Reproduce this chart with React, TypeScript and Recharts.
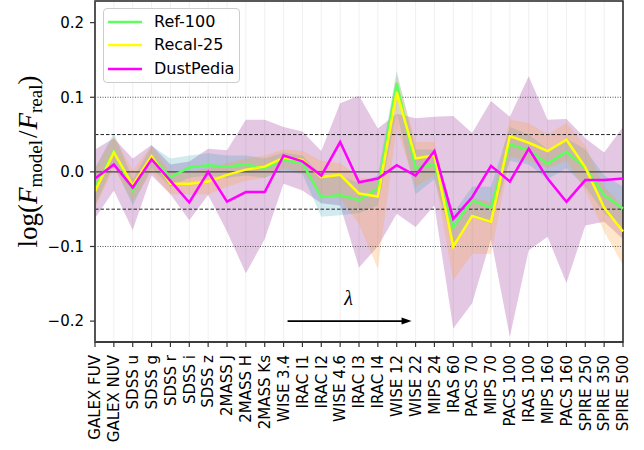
import React from "react";
import {
  ComposedChart, Line, Area, XAxis, YAxis, CartesianGrid, ReferenceLine, ReferenceArea,
} from "recharts";

const categories = [
  "GALEX FUV", "GALEX NUV", "SDSS u", "SDSS g", "SDSS r", "SDSS i", "SDSS z",
  "2MASS J", "2MASS H", "2MASS Ks", "WISE 3.4", "IRAC I1", "IRAC I2", "WISE 4.6",
  "IRAC I3", "IRAC I4", "WISE 12", "WISE 22", "MIPS 24", "IRAS 60", "PACS 70",
  "MIPS 70", "PACS 100", "IRAS 100", "MIPS 160", "PACS 160", "SPIRE 250", "SPIRE 350", "SPIRE 500",
];

const ref100 = [-0.022, 0.028, -0.025, 0.020, -0.007, 0.006, 0.009, 0.007, 0.010, 0.005, 0.016, 0.012, -0.034, -0.031, -0.038, -0.022, 0.119, 0.005, 0.010, -0.074, -0.038, -0.048, 0.037, 0.029, 0.011, 0.027, 0.005, -0.031, -0.049];
const recal25 = [-0.026, 0.026, -0.018, 0.021, -0.016, -0.016, -0.013, -0.004, 0.003, 0.007, 0.019, 0.016, -0.007, -0.004, -0.029, -0.033, 0.107, 0.018, 0.022, -0.100, -0.059, -0.067, 0.048, 0.039, 0.028, 0.043, 0.006, -0.048, -0.080];
const dustPedia = [-0.009, 0.010, -0.021, 0.017, -0.012, -0.041, 0.000, -0.040, -0.027, -0.027, 0.022, 0.014, -0.005, 0.040, -0.014, -0.009, 0.009, -0.005, 0.028, -0.063, -0.034, 0.008, -0.013, 0.031, -0.009, -0.040, -0.011, -0.011, -0.009];

const refLo = [-0.045, 0.010, -0.045, 0.005, -0.020, -0.008, -0.005, -0.008, -0.005, -0.008, 0.002, -0.003, -0.060, -0.058, -0.055, -0.045, 0.080, -0.030, -0.010, -0.100, -0.060, -0.070, 0.015, 0.010, -0.010, 0.005, -0.020, -0.055, -0.075];
const refHi = [0.005, 0.052, -0.010, 0.035, 0.018, 0.022, 0.025, 0.022, 0.022, 0.018, 0.026, 0.022, -0.005, -0.005, -0.015, -0.005, 0.136, 0.030, 0.030, -0.055, -0.020, -0.020, 0.060, 0.050, 0.030, 0.045, 0.030, -0.005, -0.020];
const recalLo = [-0.048, 0.005, -0.040, 0.000, -0.030, -0.030, -0.030, -0.020, -0.012, -0.008, 0.005, 0.000, -0.030, -0.035, -0.070, -0.130, 0.060, -0.020, -0.005, -0.145, -0.110, -0.110, 0.020, 0.015, 0.005, 0.015, -0.025, -0.080, -0.125];
const recalHi = [0.005, 0.048, 0.002, 0.035, 0.000, 0.000, 0.005, 0.012, 0.018, 0.022, 0.030, 0.028, 0.015, 0.012, -0.008, -0.010, 0.130, 0.040, 0.040, -0.070, -0.035, -0.040, 0.070, 0.065, 0.050, 0.065, 0.035, -0.020, -0.045];
const dustLo = [-0.062, -0.025, -0.078, -0.005, -0.030, -0.065, -0.031, -0.080, -0.136, -0.090, -0.016, -0.025, -0.042, -0.045, -0.128, -0.100, -0.056, -0.074, -0.045, -0.210, -0.176, -0.090, -0.221, -0.105, -0.087, -0.149, -0.072, -0.067, -0.090];
const dustHi = [0.030, 0.045, 0.018, 0.036, 0.010, 0.014, 0.031, 0.029, 0.070, 0.070, 0.060, 0.054, 0.028, 0.092, 0.102, 0.058, 0.078, 0.072, 0.074, 0.075, 0.052, 0.095, 0.074, 0.128, 0.070, 0.071, 0.045, 0.026, 0.060];

const yTicks = [-0.2, -0.1, 0, 0.1, 0.2];
const seriesNames = ["Ref-100", "Recal-25", "DustPedia"];
const seriesColors = ["#5cff5c", "#ffff00", "#ff00ff"];

const data = categories.map((name, i) => ({
  name,
  ref: ref100[i],
  recal: recal25[i],
  dust: dustPedia[i],
  refBand: [refLo[i], refHi[i]],
  recalBand: [recalLo[i], recalHi[i]],
  dustBand: [dustLo[i], dustHi[i]],
}));

const FONT = "'DejaVu Sans', sans-serif";

const fmt = (v: number) => (v < 0 ? "\u2212" + Math.abs(v).toFixed(1) : v.toFixed(1));

const XTick = (props: any) => {
  const { x, y, payload } = props;
  return (
    <text
      x={x}
      y={y}
      transform={`rotate(-90, ${x}, ${y})`}
      textAnchor="end"
      dy="0.35em"
      fontFamily={FONT}
      fontSize={15}
      fill="#000"
    >
      {payload.value}
    </text>
  );
};

const YLabel = (props: any) => {
  const vb = props.viewBox || {};
  const right = vb.width && vb.width < 300 ? vb.x + vb.width : vb.x;
  const cx = right - 67;
  const cy = vb.y + vb.height / 2 - 10;
  return (
    <text
      x={cx}
      y={cy}
      transform={`rotate(-90, ${cx}, ${cy})`}
      textAnchor="middle"
      dy="0.35em"
      fontFamily="'Liberation Serif', 'DejaVu Serif', serif"
      fontSize={27}
      fill="#000"
    >
      <tspan>log(</tspan>
      <tspan fontStyle="italic">F</tspan>
      <tspan fontSize={19} dy={5}>model</tspan>
      <tspan dy={-5} dx={2}>/</tspan>
      <tspan fontStyle="italic" dx={1}>F</tspan>
      <tspan fontSize={19} dy={5}>real</tspan>
      <tspan dy={-5}>)</tspan>
    </text>
  );
};

const ArrowShape = (props: any) => {
  const { x1, y1, x2, y2 } = props;
  if (x1 == null || x2 == null) return null;
  const sx = x1 + 4;
  const ex = x2 - 4;
  const y = y1;
  const mid = (sx + ex) / 2;
  return (
    <g>
      <line x1={sx} y1={y} x2={ex - 8} y2={y2} stroke="#000" strokeWidth={1.6} />
      <polygon points={`${ex},${y} ${ex - 10},${y - 3.5} ${ex - 10},${y + 3.5}`} fill="#000" />
      <text
        x={mid - 1}
        y={y - 16}
        textAnchor="middle"
        fontFamily="'Liberation Serif', 'DejaVu Serif', serif"
        fontStyle="italic"
        fontSize={20}
        fill="#000"
      >
        λ
      </text>
    </g>
  );
};

const LegendBox = () => (
  <div
    style={{
      position: "absolute",
      left: 103,
      top: 8,
      width: 135,
      height: 73,
      border: "1px solid #cccccc",
      borderRadius: 4,
      background: "rgba(255,255,255,0.85)",
      fontFamily: FONT,
      fontSize: 16,
      color: "#000",
    }}
  >
    {seriesNames.map((n, i) => (
      <div
        key={n}
        style={{ position: "absolute", left: 0, top: 3 + i * 23.3, height: 20, display: "flex", alignItems: "center" }}
      >
        <svg width={40} height={20} style={{ display: "block" }}>
          <line x1={4} y1={10} x2={38} y2={10} stroke={seriesColors[i]} strokeWidth={2.6} />
        </svg>
        <span style={{ marginLeft: 10, whiteSpace: "nowrap", lineHeight: "20px" }}>{n}</span>
      </div>
    ))}
  </div>
);

export default function App() {
  return (
    <div style={{ position: "absolute", left: 0, top: 0, width: 644, height: 450, background: "#fff" }}>
      <ComposedChart
        width={644}
        height={450}
        data={data}
        margin={{ top: 1, right: 21, bottom: 0, left: 0 }}
      >
        <CartesianGrid horizontal={false} vertical stroke="#f0f0f0" strokeWidth={1} />
        <XAxis
          dataKey="name"
          interval={0}
          height={108}
          tick={<XTick />}
          tickSize={5}
          tickMargin={8}
          axisLine={{ stroke: "#333", strokeWidth: 1.5 }}
          tickLine={{ stroke: "#333", strokeWidth: 1.2 }}
        />
        <YAxis
          type="number"
          width={95}
          domain={[-0.228, 0.229]}
          ticks={yTicks}
          allowDataOverflow
          tickFormatter={fmt}
          tickSize={5}
          tickMargin={6}
          tick={{ fontFamily: FONT, fontSize: 15, fill: "#000" }}
          axisLine={{ stroke: "#555", strokeWidth: 1.8 }}
          tickLine={{ stroke: "#333", strokeWidth: 1.2 }}
          label={{ content: <YLabel /> }}
        />
        <ReferenceLine y={0.1} stroke="#555" strokeDasharray="1 1.5" strokeWidth={1} />
        <ReferenceLine y={-0.1} stroke="#555" strokeDasharray="1 1.5" strokeWidth={1} />
        <ReferenceLine y={0.05} stroke="#222" strokeDasharray="3.5 2" strokeWidth={1} />
        <ReferenceLine y={-0.05} stroke="#222" strokeDasharray="3.5 2" strokeWidth={1} />
        <ReferenceLine y={0} stroke="#444" strokeWidth={1.3} />
        <Area
          type="linear"
          dataKey="dustBand"
          stroke="none"
          fill="#800080"
          fillOpacity={0.22}
          isAnimationActive={false}
          activeDot={false}
        />
        <Area
          type="linear"
          dataKey="refBand"
          stroke="none"
          fill="#1a9ab0"
          fillOpacity={0.2}
          isAnimationActive={false}
          activeDot={false}
        />
        <Area
          type="linear"
          dataKey="recalBand"
          stroke="none"
          fill="#ffa030"
          fillOpacity={0.25}
          isAnimationActive={false}
          activeDot={false}
        />
        <Line type="linear" dataKey="ref" stroke={seriesColors[0]} strokeWidth={2.5} dot={false} isAnimationActive={false} />
        <Line type="linear" dataKey="recal" stroke={seriesColors[1]} strokeWidth={2.5} dot={false} isAnimationActive={false} />
        <Line type="linear" dataKey="dust" stroke={seriesColors[2]} strokeWidth={2.5} dot={false} isAnimationActive={false} />
        <ReferenceLine
          segment={[{ x: "WISE 3.4", y: -0.2 }, { x: "WISE 22", y: -0.2 }]}
          ifOverflow="visible"
          shape={(p: any) => <ArrowShape {...p} />}
        />
        <ReferenceArea
          x1={categories[0]}
          x2={categories[categories.length - 1]}
          y1={-0.228}
          y2={0.229}
          fill="none"
          fillOpacity={0}
          stroke="#222"
          strokeWidth={1.5}
          ifOverflow="visible"
        />
      </ComposedChart>
      <LegendBox />
    </div>
  );
}
